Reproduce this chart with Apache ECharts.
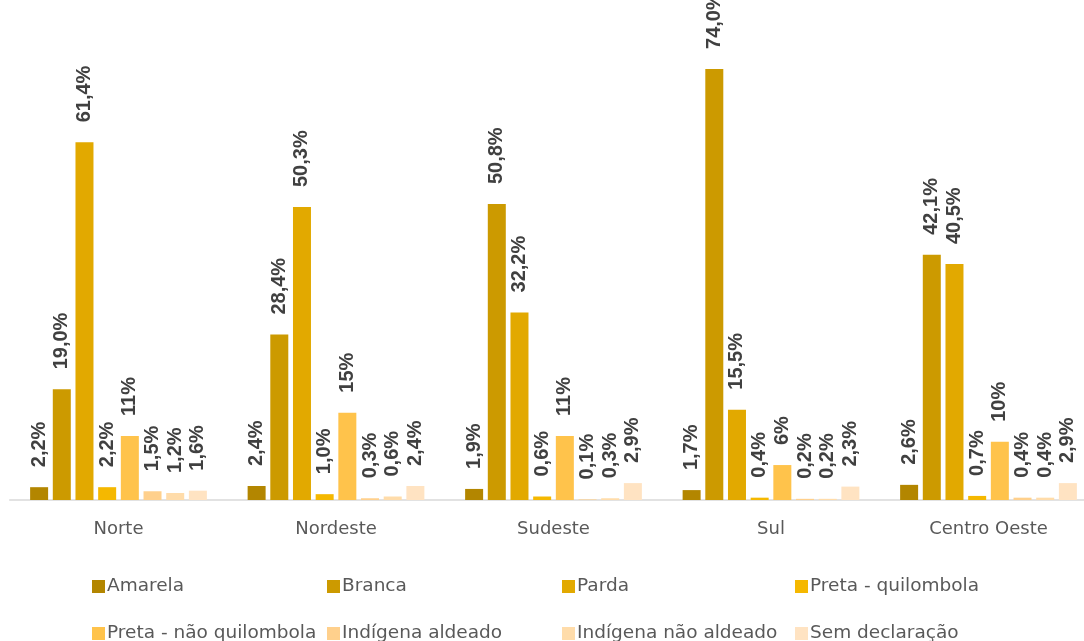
<!DOCTYPE html>
<html>
<head>
<meta charset="utf-8">
<title>Cor/raça por região</title>
<script src="https://cdn.jsdelivr.net/npm/echarts@6/dist/echarts.min.js"></script>
<style>
  html, body { margin: 0; padding: 0; background: #ffffff; overflow: hidden; }
  #chart { width: 1084px; height: 641px; }
</style>
</head>
<body>
<div id="chart"></div>
<script>
// Regions on the category axis
const regions = ['Norte', 'Nordeste', 'Sudeste', 'Sul', 'Centro Oeste'];

// Share (%) of each group per region
const amarela = [2.2, 2.4, 1.9, 1.7, 2.6];
const branca = [19.0, 28.4, 50.8, 74.0, 42.1];
const parda = [61.4, 50.3, 32.2, 15.5, 40.5];
const pretaQuilombola = [2.2, 1.0, 0.6, 0.4, 0.7];
const pretaNaoQuilombola = [11, 15, 11, 6, 10];
const indigenaAldeado = [1.5, 0.3, 0.1, 0.2, 0.4];
const indigenaNaoAldeado = [1.2, 0.6, 0.3, 0.2, 0.4];
const semDeclaracao = [1.6, 2.4, 2.9, 2.3, 2.9];

const seriesNames = [
  'Amarela', 'Branca', 'Parda', 'Preta - quilombola',
  'Preta - não quilombola', 'Indígena aldeado', 'Indígena não aldeado', 'Sem declaração'
];
const seriesValues = [
  amarela, branca, parda, pretaQuilombola,
  pretaNaoQuilombola, indigenaAldeado, indigenaNaoAldeado, semDeclaracao
];

// Styling per series
const colors = ['#B38600', '#CC9A00', '#E2A900', '#F5B800', '#FFC34B', '#FFD08C', '#FFDCAA', '#FFE3C2'];
const labelDecimals = [1, 1, 1, 1, 0, 1, 1, 1];

// Legend grid: 4 columns x 2 rows
const legendCols = [92, 327, 562, 795];
const legendRows = [577, 624];

const fmt = (v, d) => v.toFixed(d).replace('.', ',') + '%';

const series = seriesNames.map((name, i) => ({
  name: name,
  type: 'bar',
  data: seriesValues[i],
  barWidth: 18,
  barGap: '26%',
  itemStyle: { color: colors[i] },
  label: {
    show: true,
    position: 'top',
    rotate: 90,
    align: 'left',
    verticalAlign: 'middle',
    distance: 20,
    fontFamily: 'Liberation Sans, Arial, sans-serif',
    fontWeight: 'bold',
    fontSize: 20,
    color: '#404040',
    formatter: p => fmt(p.value, labelDecimals[i])
  }
}));

const legends = seriesNames.map((name, i) => ({
  data: [name],
  left: legendCols[i % 4],
  top: legendRows[Math.floor(i / 4)],
  padding: 0,
  icon: 'rect',
  itemWidth: 13,
  itemHeight: 13,
  selectedMode: false,
  textStyle: {
    fontFamily: 'DejaVu Sans, sans-serif',
    fontSize: 18.5,
    color: '#595959',
    padding: [0, 0, 0, -3]
  }
}));

const chart = echarts.init(document.getElementById('chart'), null, { renderer: 'canvas' });
chart.setOption({
  animation: false,
  backgroundColor: '#ffffff',
  // the plot runs a little past the right edge of the canvas
  grid: {
    left: 9.75, width: 1087.5, top: 34, bottom: 141,
    containLabel: false,
    outerBoundsMode: 'none'
  },
  legend: legends,
  xAxis: {
    type: 'category',
    data: regions,
    axisTick: { show: false },
    axisLine: { lineStyle: { color: '#D9D9D9', width: 1.5 } },
    axisLabel: {
      margin: 20,
      fontFamily: 'DejaVu Sans, sans-serif',
      fontSize: 18,
      color: '#595959'
    }
  },
  yAxis: {
    type: 'value',
    min: 0,
    max: 80,
    show: false,
    splitLine: { show: false }
  },
  series: series
});
</script>
</body>
</html>
